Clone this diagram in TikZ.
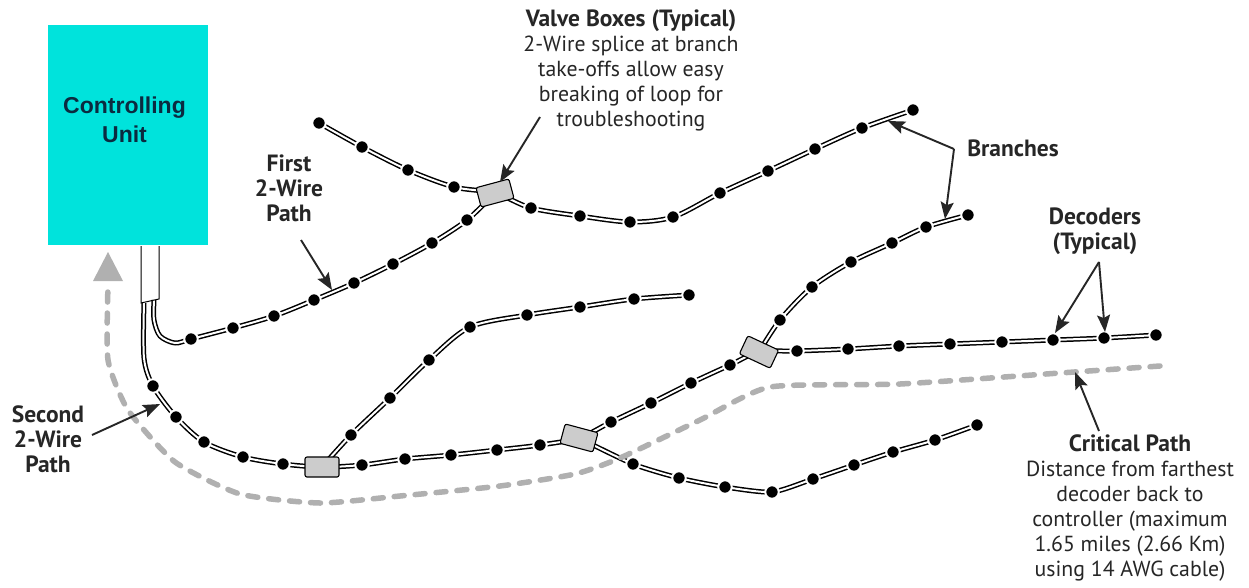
\documentclass[tikz,border=0pt]{standalone}
\usepackage{fontspec}
\setmainfont{PT Sans}
\newfontfamily\arialf{Liberation Sans}
\usetikzlibrary{arrows.meta,backgrounds}
\definecolor{unitcyan}{HTML}{00E3DC}
\definecolor{boxgray}{HTML}{CCCCCC}
\definecolor{pathgray}{HTML}{B0B0B0}
\definecolor{inkc}{HTML}{262626}
\definecolor{unitink}{HTML}{0B2B40}
\tikzset{
  dec/.style={circle,fill=black,draw=white,line width=2pt,inner sep=0pt,minimum size=13.5pt},
  wire/.style={draw=black,line width=5pt,line join=round,postaction={draw=white,line width=2pt}},
  vbox/.style={rectangle,rounded corners=2pt,draw=black,line width=1.1pt,fill=boxgray,minimum width=34pt,minimum height=20pt,inner sep=0pt},
  lead/.style={draw=inkc,line width=1.9pt,-{Stealth[length=17pt,width=13pt,inset=3pt]}},
  lab/.style={align=center,text=inkc,font=\fontsize{21.8}{25}\selectfont,inner sep=0pt},
  crit/.style={draw=pathgray,line width=5.5pt,dash pattern=on 10pt off 11pt,line cap=round}
}
\newcommand{\dc}[3]{\node[dec] (#1) at (#2,#3) {};}
\newcommand{\hd}[1]{{\fontsize{23.5}{25}\selectfont\bfseries #1}}
\begin{document}
\begin{tikzpicture}[x=1pt,y=-1pt]
\useasboundingbox (0,0) rectangle (1249,587);
% controlling unit
\node[draw=none,fill=unitcyan,minimum width=160pt,minimum height=220pt,inner sep=0pt,anchor=north west] (unit) at (48,25) {};
\node[align=center,text=unitink,font=\arialf\bfseries\fontsize{23}{29}\selectfont,inner sep=0pt] (unitlab) at (124.5,120) {Controlling\\Unit};
% conduit
\coordinate (cTL) at (141,246); \coordinate (cTR) at (159,246);
\coordinate (cBL) at (141,303); \coordinate (cBR) at (159,299);
\draw[black,line width=1pt] (cTL) -- (cBL) -- (cBR) -- (cTR);
% valve boxes
\node[vbox,rotate=15] (vb1) at (495,193) {};
\node[vbox] (vb2) at (322,467) {};
\node[vbox,rotate=-15] (vb3) at (579,438) {};
\node[vbox,rotate=-25] (vb4) at (759,352) {};
% top main
\dc{a1}{319}{123}\dc{a2}{362}{147}\dc{a3}{408}{170}\dc{a4}{454}{187}
\dc{a5}{531}{208}\dc{a6}{580}{216}\dc{a7}{630}{222}\dc{a8}{673}{217}
\dc{a9}{720}{193}\dc{a10}{768}{171}\dc{a11}{815}{149}\dc{a12}{862}{128}\dc{a13}{913}{110}
% first path
\dc{f1}{191}{339}\dc{f2}{233}{328}\dc{f3}{274}{316}\dc{f4}{314}{300}\dc{f5}{354}{283}
\dc{f6}{393}{264}\dc{f7}{432}{243}\dc{f8}{467}{220}
% second path
\dc{s1}{153}{386}\dc{s2}{176}{417}\dc{s3}{204}{442}\dc{s4}{243}{457}\dc{s5}{283}{464}
\dc{s6}{362}{465}\dc{s7}{405}{459}\dc{s8}{451}{455}\dc{s9}{497}{450}\dc{s10}{540}{445}
\dc{s11}{611}{422}\dc{s12}{651}{403}\dc{s13}{691}{383}\dc{s14}{730}{365}
\dc{s15}{797}{351}\dc{s16}{848}{349}\dc{s17}{899}{346}\dc{s18}{950}{344}
\dc{s19}{1002}{342}\dc{s20}{1053}{340}\dc{s21}{1104}{338}\dc{s22}{1156}{335}
% low branch
\dc{l1}{633}{464}\dc{l2}{679}{478}\dc{l3}{725}{487}\dc{l4}{772}{492}\dc{l5}{813}{479}
\dc{l6}{854}{465}\dc{l7}{893}{452}\dc{l8}{935}{440}\dc{l9}{977}{425}
% middle branch
\dc{m1}{351}{435}\dc{m2}{390}{398}\dc{m3}{429}{360}\dc{m4}{470}{327}\dc{m5}{527}{315}
\dc{m6}{580}{307}\dc{m7}{634}{299}\dc{m8}{689}{295}
% upper right branch
\dc{u1}{780}{320}\dc{u2}{812}{287}\dc{u3}{851}{262}\dc{u4}{892}{243}\dc{u5}{926}{227}\dc{u6}{968}{215}
% free points of wires
\coordinate (w1a) at (154,300); \coordinate (w1b) at (154,320); \coordinate (w1x) at (160,336); \coordinate (w1c) at (175,343);
\coordinate (w2a) at (144,303); \coordinate (w2b) at (144,358);
\begin{scope}[on background layer]
\fill[white] (0,0) rectangle (1249,587);
\draw[wire] plot[smooth,tension=0.5] coordinates {(a1.center)(a2.center)(a3.center)(a4.center)(vb1.center)(a5.center)(a6.center)(a7.center)(a8.center)(a9.center)(a10.center)(a11.center)(a12.center)(a13.center)};
\draw[wire] plot[smooth,tension=0.5] coordinates {(w1a)(w1b)(w1x)(w1c)(f1.center)(f2.center)(f3.center)(f4.center)(f5.center)(f6.center)(f7.center)(f8.center)(vb1.center)};
\draw[wire] plot[smooth,tension=0.5] coordinates {(w2a)(w2b)(s1.center)(s2.center)(s3.center)(s4.center)(s5.center)(vb2.center)(s6.center)(s7.center)(s8.center)(s9.center)(s10.center)(vb3.center)(s11.center)(s12.center)(s13.center)(s14.center)(vb4.center)(s15.center)(s16.center)(s17.center)(s18.center)(s19.center)(s20.center)(s21.center)(s22.center)};
\draw[wire] plot[smooth,tension=0.4] coordinates {(vb3.center)(l1.center)(l2.center)(l3.center)(l4.center)(l5.center)(l6.center)(l7.center)(l8.center)(l9.center)};
\draw[wire] plot[smooth,tension=0.5] coordinates {(vb2.center)(m1.center)(m2.center)(m3.center)(m4.center)(m5.center)(m6.center)(m7.center)(m8.center)};
\draw[wire] plot[smooth,tension=0.5] coordinates {(vb4.center)(u1.center)(u2.center)(u3.center)(u4.center)(u5.center)(u6.center)};
% critical path
\coordinate (g0) at (1160,366); \coordinate (g1) at (1060,373); \coordinate (g2) at (900,384);
\coordinate (g3) at (770,387); \coordinate (g4) at (700,420); \coordinate (g5) at (620,458);
\coordinate (g6) at (575,474); \coordinate (g7) at (500,486); \coordinate (g8) at (400,496);
\coordinate (g9) at (320,503); \coordinate (g10) at (240,494); \coordinate (g11) at (175,462);
\coordinate (g12) at (128,410); \coordinate (g13) at (108,360); \coordinate (g14) at (108,285);
\draw[crit] plot[smooth,tension=0.35] coordinates {(g0)(g1)(g2)(g3)(g4)(g5)(g6)(g7)(g8)(g9)(g10)(g11)(g12)(g13)(g14)};
\end{scope}
\coordinate (gtip) at (108,252);
\fill[pathgray] (gtip) -- (123,281) -- (93,281) -- cycle;
% labels
\node[lab] (tvb) at (631,70) {\hd{Valve Boxes (Typical)}\\2-Wire splice at branch\\take-offs allow easy\\breaking of loop for\\troubleshooting};
\node[lab] (tfp) at (289,188) {\hd{First}\\\hd{2-Wire}\\\hd{Path}};
\node[lab] (tsp) at (48,439) {\hd{Second}\\\hd{2-Wire}\\\hd{Path}};
\node[lab] (tbr) at (1013,148) {\hd{Branches}};
\node[lab] (tde) at (1095,231) {\hd{Decoders}\\\hd{(Typical)}};
\node[lab] (tcr) at (1130,508) {\hd{Critical Path}\\Distance from farthest\\decoder back to\\controller (maximum\\1.65 miles (2.66 Km)\\using 14 AWG cable)};
% leaders
\coordinate (lvb) at (540,117); \coordinate (lvbE) at (500,182);
\coordinate (lfp) at (301,240); \coordinate (lfpE) at (332,290);
\coordinate (lsp) at (92,435); \coordinate (lspE) at (160,404);
\coordinate (lbr) at (954,149); \coordinate (lbr1) at (888,121); \coordinate (lbr2) at (945,219);
\coordinate (lde) at (1099,262); \coordinate (lde1) at (1055,333); \coordinate (lde2) at (1105,332);
\coordinate (lcr) at (1099,431); \coordinate (lcrE) at (1075,372);
\draw[lead] (lvb) -- (lvbE);
\draw[lead] (lfp) -- (lfpE);
\draw[lead] (lsp) -- (lspE);
\draw[lead] (lbr) -- (lbr1);
\draw[lead] (lbr) -- (lbr2);
\draw[lead] (lde) -- (lde1);
\draw[lead] (lde) -- (lde2);
\draw[lead] (lcr) -- (lcrE);
\end{tikzpicture}
\end{document}
